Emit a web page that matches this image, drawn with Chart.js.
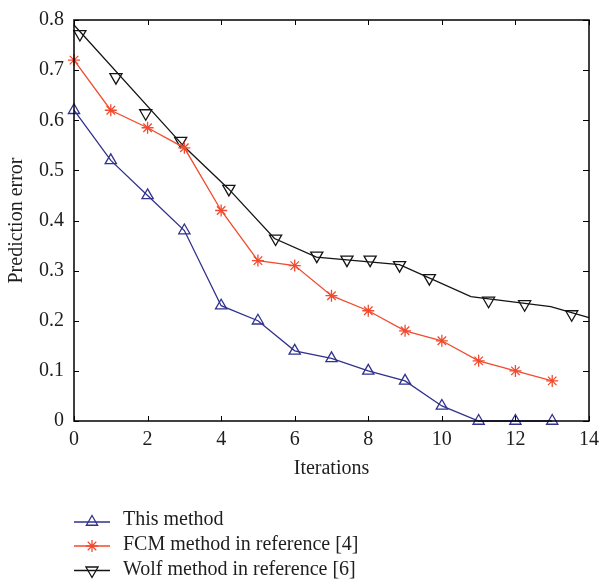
<!DOCTYPE html>
<html>
<head>
<meta charset="utf-8">
<script src="https://cdn.jsdelivr.net/npm/chart.js@4.4.1/dist/chart.umd.min.js"></script>
<style>
  html, body { margin: 0; padding: 0; background: #fff; }
  #wrap { width: 600px; height: 580px; position: relative; }
</style>
</head>
<body>
<div id="wrap"><canvas id="chart"></canvas></div>
<script>
// values
const iterations = [0, 1, 2, 3, 4, 5, 6, 7, 8, 9, 10, 11, 12, 13];
const thisMethod = [0.62, 0.52, 0.45, 0.38, 0.23, 0.20, 0.14, 0.125, 0.10, 0.08, 0.03, 0, 0, 0];
const fcmMethod = [0.72, 0.62, 0.585, 0.545, 0.42, 0.32, 0.31, 0.25, 0.22, 0.18, 0.16, 0.12, 0.10, 0.08];

// the Wolf curve: line vertices and marker positions don't coincide in the original
const wolfLineX = [0, 3, 4.19, 5.45, 6.59, 8.85, 10.79, 12.96, 14];
const wolfLineY = [0.79, 0.547, 0.464, 0.364, 0.327, 0.312, 0.248, 0.228, 0.206];
const wolfMarkX = [0.16, 1.14, 1.95, 2.9, 4.21, 5.48, 6.6, 7.42, 8.05, 8.85, 9.66, 11.27, 12.25, 13.53];
const wolfMarkY = [0.772, 0.686, 0.614, 0.559, 0.463, 0.364, 0.330, 0.322, 0.322, 0.311, 0.285, 0.240, 0.233, 0.213];

const xTicks = [0, 2, 4, 6, 8, 10, 12, 14];
const yTicks = [0, 0.1, 0.2, 0.3, 0.4, 0.5, 0.6, 0.7, 0.8];

const seriesNames = ['This method', 'FCM method in reference [4]', 'Wolf method in reference [6]'];

const BLUE = '#31318f';
const RED = '#f24a2e';
const BLACK = '#141414';

const pts = (xs, ys) => xs.map((x, i) => ({ x: x, y: ys[i] }));

Chart.defaults.font.family = '"Liberation Serif", "Times New Roman", serif';
Chart.defaults.font.size = 20;
Chart.defaults.color = '#1e1e1e';

// box frame with inward ticks on all four sides
const frame = {
  id: 'frame',
  afterDatasetsDraw(chart) {
    const { ctx, chartArea: a, scales: { x, y } } = chart;
    ctx.save();
    ctx.strokeStyle = '#000';
    ctx.lineWidth = 1.5;
    ctx.strokeRect(a.left, a.top, a.right - a.left, a.bottom - a.top);
    ctx.lineWidth = 1;
    ctx.beginPath();
    xTicks.forEach(v => {
      const px = Math.round(x.getPixelForValue(v)) + 0.5;
      ctx.moveTo(px, a.top); ctx.lineTo(px, a.top + 5);
      ctx.moveTo(px, a.bottom); ctx.lineTo(px, a.bottom - 5);
    });
    yTicks.forEach(v => {
      const py = Math.round(y.getPixelForValue(v)) + 0.5;
      ctx.moveTo(a.left, py); ctx.lineTo(a.left + 5, py);
      ctx.moveTo(a.right, py); ctx.lineTo(a.right - 6, py);
    });
    ctx.stroke();
    ctx.restore();
  }
};

// legend under the plot: line + marker, then the label
const legendBox = {
  id: 'legendBox',
  afterDraw(chart) {
    const ctx = chart.ctx;
    const items = [
      { color: BLUE, style: 'triangle', rot: 0, r: 6.5, y: 522, base: 525 },
      { color: RED, style: 'star', rot: 0, r: 6, y: 546, base: 550 },
      { color: BLACK, style: 'triangle', rot: 180, r: 7, y: 570.5, base: 575 }
    ];
    ctx.save();
    items.forEach((it, i) => {
      ctx.strokeStyle = it.color;
      ctx.lineWidth = 1.3;
      ctx.beginPath();
      ctx.moveTo(74, it.y);
      ctx.lineTo(110, it.y);
      ctx.stroke();
      ctx.fillStyle = 'rgba(0,0,0,0)';
      Chart.helpers.drawPoint(ctx, { pointStyle: it.style, radius: it.r, rotation: it.rot, borderWidth: 1.3 }, 92, it.y);
      ctx.fillStyle = '#1e1e1e';
      ctx.font = '20px "Liberation Serif", "Times New Roman", serif';
      ctx.textAlign = 'left';
      ctx.textBaseline = 'alphabetic';
      ctx.fillText(seriesNames[i], 123, it.base);
    });
    ctx.restore();
  }
};

new Chart(document.getElementById('chart'), {
  type: 'line',
  data: {
    datasets: [
      {
        label: seriesNames[0],
        data: pts(iterations, thisMethod),
        borderColor: BLUE,
        borderWidth: 1.3,
        pointStyle: 'triangle',
        pointRadius: 6.5,
        pointBorderWidth: 1.3,
        pointBorderColor: BLUE,
        pointBackgroundColor: 'rgba(0,0,0,0)',
        clip: false
      },
      {
        label: seriesNames[1],
        data: pts(iterations, fcmMethod),
        borderColor: RED,
        borderWidth: 1.3,
        pointStyle: 'star',
        pointRadius: 6,
        pointBorderWidth: 1.3,
        pointBorderColor: RED,
        clip: false
      },
      {
        label: seriesNames[2],
        data: pts(wolfLineX, wolfLineY),
        borderColor: BLACK,
        borderWidth: 1.3,
        pointRadius: 0,
        clip: false
      },
      {
        label: seriesNames[2] + ' markers',
        data: pts(wolfMarkX, wolfMarkY),
        showLine: false,
        pointStyle: 'triangle',
        rotation: 180,
        pointRadius: 7,
        pointBorderWidth: 1.3,
        pointBorderColor: BLACK,
        pointBackgroundColor: 'rgba(0,0,0,0)',
        clip: false
      }
    ]
  },
  options: {
    responsive: true,
    maintainAspectRatio: false,
    animation: false,
    layout: { padding: { top: 20, right: 11, bottom: 99, left: 0 } },
    plugins: { legend: { display: false }, tooltip: { enabled: false } },
    elements: { line: { tension: 0 } },
    scales: {
      x: {
        type: 'linear',
        min: 0,
        max: 14,
        afterBuildTicks: s => { s.ticks = xTicks.map(v => ({ value: v })); },
        ticks: { padding: 7 },
        grid: { display: false, drawTicks: false },
        border: { display: false },
        title: { display: true, text: 'Iterations', padding: { top: 0, bottom: 0 } },
        afterFit: s => { s.height = 60; s.paddingLeft = 0; s.paddingRight = 0; }
      },
      y: {
        min: 0,
        max: 0.8,
        afterBuildTicks: s => { s.ticks = yTicks.map(v => ({ value: v })); },
        ticks: { padding: 10 },
        grid: { display: false, drawTicks: false },
        border: { display: false },
        title: { display: true, text: 'Prediction error', padding: { top: 4.5, bottom: 0 } },
        afterFit: s => { s.width = 74; s.paddingTop = 0; s.paddingBottom = 0; }
      }
    }
  },
  plugins: [frame, legendBox]
});
</script>
</body>
</html>
